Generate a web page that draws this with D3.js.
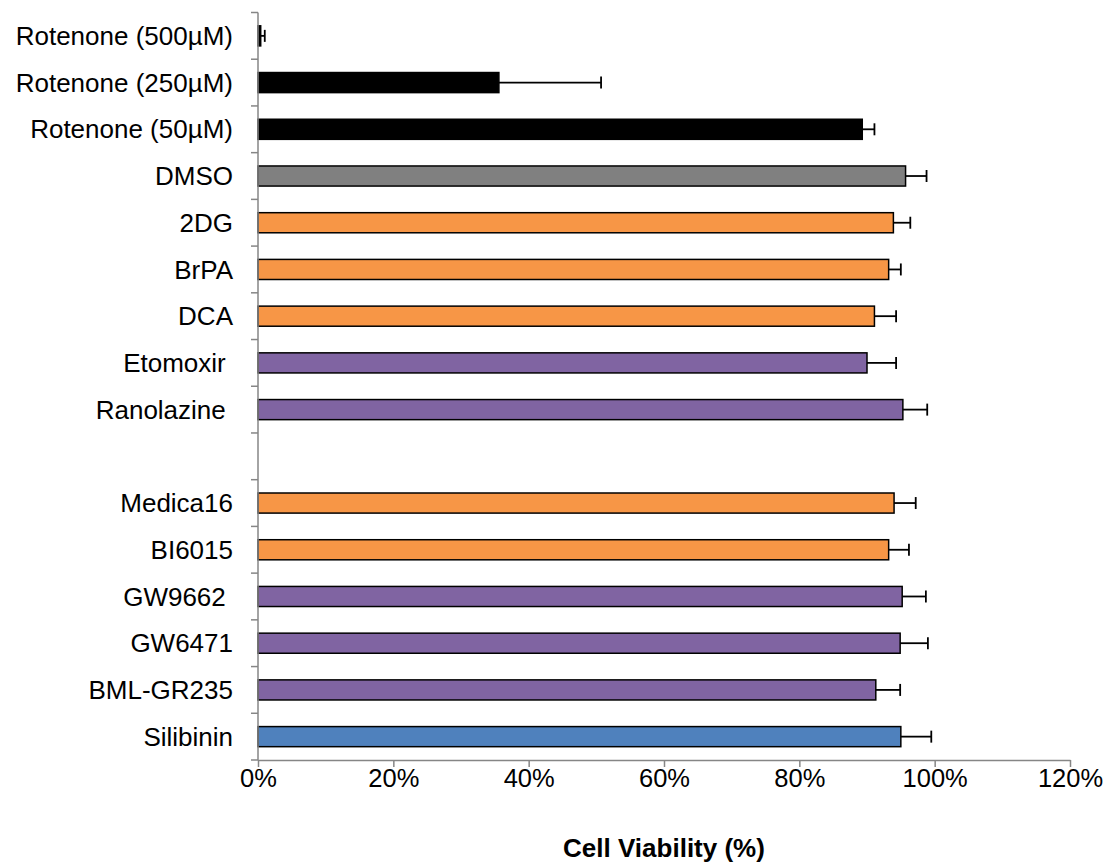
<!DOCTYPE html>
<html>
<head>
<meta charset="utf-8">
<script src="https://cdn.jsdelivr.net/npm/d3@7"></script>
<style>
	body { margin: 0; background: #fff; }
	svg text { font-family: Arial, "Liberation Sans", sans-serif; white-space: pre; }
</style>
</head>
<body>
<svg id="chart"></svg>
<script>
// categories top to bottom ('' is the empty gap row)
const categories = ['Rotenone (500µM)', 'Rotenone (250µM)', 'Rotenone (50µM)', 'DMSO', '2DG', 'BrPA', 'DCA',
	'Etomoxir ', 'Ranolazine ', '', 'Medica16', 'BI6015', 'GW9662 ', 'GW6471', 'BML-GR235', 'Silibinin']
const viability = [0.004, 0.356, 0.893, 0.957, 0.939, 0.932, 0.911, 0.900, 0.953, null,
	0.940, 0.932, 0.952, 0.949, 0.913, 0.950]
const errors = [0.006, 0.151, 0.018, 0.031, 0.025, 0.018, 0.032, 0.043, 0.036, null,
	0.032, 0.030, 0.035, 0.041, 0.036, 0.045]
const groups = ['rot', 'rot', 'rot', 'dmso', 'gly', 'gly', 'gly', 'fao', 'fao', null,
	'gly', 'gly', 'fao', 'fao', 'fao', 'sil']
const xTicks = [0, 0.2, 0.4, 0.6, 0.8, 1.0, 1.2]

const W = 1108, H = 865
const margin = { left: 258, right: 38, top: 12.5, bottom: 105 }

let svg = d3.select('#chart').attr('width', W).attr('height', H)

let x = d3.scaleLinear().domain([0, 1.2]).range([margin.left, W - margin.right])
let y = d3.scaleBand().domain(d3.range(categories.length))
	.range([margin.top, H - margin.bottom]).paddingInner(0.57).paddingOuter(0.285)
let slot = d3.scaleBand().domain(d3.range(categories.length))
	.range([margin.top, H - margin.bottom])

let colour = d3.scaleOrdinal()
	.domain(['rot', 'dmso', 'gly', 'fao', 'sil'])
	.range(['#000000', '#808080', '#F79646', '#8064A2', '#4F81BD'])

let rows = categories.map((c, i) => ({ i, name: c, v: viability[i], e: errors[i], g: groups[i] }))
	.filter(d => d.v !== null)

// bars
svg.append('g').selectAll('rect')
	.data(rows).enter().append('rect')
	.attr('x', x(0))
	.attr('y', d => y(d.i))
	.attr('width', d => x(d.v) - x(0))
	.attr('height', y.bandwidth())
	.attr('fill', d => colour(d.g))
	.attr('stroke', '#000')
	.attr('stroke-width', 1.5)

// error bars (plus side only)
let eb = svg.append('g').attr('stroke', '#000').attr('stroke-width', 1.8)
eb.selectAll('.eline').data(rows).enter().append('line').attr('class', 'eline')
	.attr('x1', d => x(d.v)).attr('x2', d => x(d.v + d.e))
	.attr('y1', d => y(d.i) + y.bandwidth() / 2).attr('y2', d => y(d.i) + y.bandwidth() / 2)
eb.selectAll('.ecap').data(rows).enter().append('line').attr('class', 'ecap')
	.attr('x1', d => x(d.v + d.e)).attr('x2', d => x(d.v + d.e))
	.attr('y1', d => y(d.i) + y.bandwidth() / 2 - 6).attr('y2', d => y(d.i) + y.bandwidth() / 2 + 6)

// y axis
let yAxis = svg.append('g')
yAxis.append('line')
	.attr('x1', x(0)).attr('x2', x(0))
	.attr('y1', margin.top).attr('y2', H - margin.bottom)
	.attr('stroke', '#868686').attr('stroke-width', 1.5)
yAxis.selectAll('.ytick').data(d3.range(categories.length + 1)).enter().append('line')
	.attr('class', 'ytick')
	.attr('x1', x(0) - 7).attr('x2', x(0))
	.attr('y1', d => margin.top + d * slot.step()).attr('y2', d => margin.top + d * slot.step())
	.attr('stroke', '#868686').attr('stroke-width', 1.5)
yAxis.selectAll('text').data(categories).enter().append('text')
	.attr('x', x(0) - 25)
	.attr('y', (d, i) => slot(i) + slot.bandwidth() / 2)
	.attr('dy', '0.35em')
	.attr('text-anchor', 'end')
	.attr('font-size', 26)
	.attr('fill', '#000')
	.text(d => d)

// x axis
let xAxis = d3.axisBottom(x).tickValues(xTicks).tickFormat(d3.format('.0%')).tickSize(7).tickSizeOuter(0)
let xg = svg.append('g').attr('transform', `translate(0, ${H - margin.bottom})`).call(xAxis)
xg.select('.domain').attr('stroke', '#868686').attr('stroke-width', 1.5)
xg.selectAll('.tick line').attr('stroke', '#868686').attr('stroke-width', 1.5)
xg.selectAll('.tick text')
	.attr('font-family', 'Arial, "Liberation Sans", sans-serif')
	.attr('font-size', 25.5)
	.attr('fill', '#000')
	.attr('y', 9)

svg.append('text')
	.attr('x', (x(0) + x(1.2)) / 2)
	.attr('y', 857)
	.attr('text-anchor', 'middle')
	.attr('font-size', 26)
	.attr('font-weight', 'bold')
	.text('Cell Viability (%)')
</script>
</body>
</html>
